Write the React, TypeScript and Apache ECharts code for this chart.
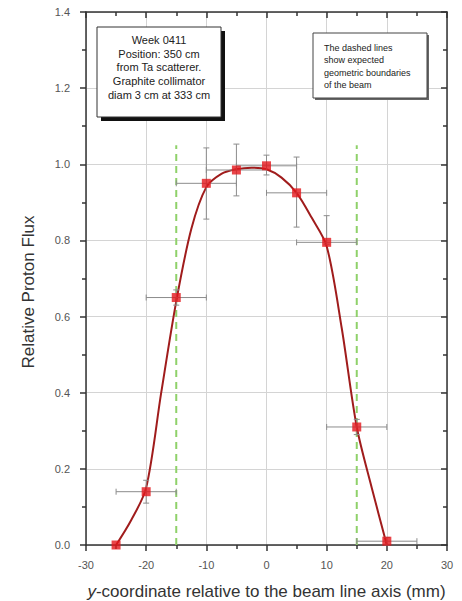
import React, { useEffect, useRef } from 'react';
import * as echarts from 'echarts';

// measured points
const positions = [-25, -20, -15, -10, -5, 0, 5, 10, 15, 20];
const flux = [0.0, 0.14, 0.65, 0.95, 0.985, 0.996, 0.925, 0.795, 0.31, 0.01];
// error bar extents
const xLow = [-25, -25, -20, -15, -10, -5, 0, 5, 10, 15];
const xHigh = [-25, -15, -10, -5, 0, 5, 10, 15, 20, 25];
const yLow = [0, 0.11, 0.63, 0.856, 0.917, 0.972, 0.835, 0.79, 0.29, 0];
const yHigh = [0, 0.17, 0.67, 1.043, 1.053, 1.024, 1.019, 0.865, 0.33, 0.02];
// fitted curve
const fitX = [-25, -22.5, -20, -17.5, -15, -12.5, -10, -7.5, -5, -2.5, 0, 2.5, 5, 7.5, 10, 12.5, 15, 17.5, 20];
const fitY = [0, 0.065, 0.15, 0.4, 0.64, 0.83, 0.94, 0.975, 0.987, 0.991, 0.987, 0.965, 0.925, 0.86, 0.785, 0.57, 0.31, 0.15, 0];
// expected geometric beam boundaries
const boundaryX = [-15, 15];
const boundaryTop = 1.05;

const infoLines = ['Week 0411', 'Position: 350 cm', 'from Ta scatterer.', 'Graphite collimator', 'diam 3 cm at 333 cm'];
const noteLines = ['The dashed lines', 'show expected', 'geometric boundaries', 'of the beam'];

const FONT = '"Liberation Sans", Arial, Helvetica, sans-serif';
const AXIS = '#333';

export default function App() {
  const ref = useRef<HTMLDivElement>(null);
  useEffect(() => {
    if (!ref.current) return;
    const chart = echarts.init(ref.current, undefined, { renderer: 'svg' });

    const tickCommon = (inside: boolean) => ({
      axisLine: { show: true, onZero: false, lineStyle: { color: AXIS, width: 1.5 } },
      axisTick: { show: true, inside, length: 6, lineStyle: { color: AXIS, width: 1.5 } },
      minorTick: { show: true, splitNumber: 2, length: 4, lineStyle: { color: AXIS, width: 1.5 } },
    });

    const option: any = {
      animation: false,
      backgroundColor: '#fff',
      grid: { left: 86, right: 15, top: 12, bottom: 56, containLabel: false, outerBoundsMode: 'none' },
      xAxis: [
        {
          type: 'value', min: -30, max: 30, interval: 10, position: 'bottom',
          ...tickCommon(false),
          axisLabel: { fontSize: 11, color: '#555', margin: 14, fontFamily: FONT },
          splitLine: { show: true, lineStyle: { color: '#d4d4d4', width: 1 } },
          name: '{i|y}-coordinate relative to the beam line axis (mm)',
          nameLocation: 'middle', nameGap: 38,
          nameTextStyle: {
            fontSize: 17, color: '#333', fontFamily: FONT,
            rich: { i: { fontStyle: 'italic', fontSize: 17, color: '#333', fontFamily: FONT } },
          },
        },
        {
          type: 'value', min: -30, max: 30, interval: 10, position: 'top',
          ...tickCommon(true),
          axisLabel: { show: false },
          splitLine: { show: false },
        },
      ],
      yAxis: [
        {
          type: 'value', min: 0, max: 1.4, interval: 0.2, position: 'left',
          ...tickCommon(false),
          axisLabel: { fontSize: 11, color: '#555', margin: 16, fontFamily: FONT, formatter: (v: number) => v.toFixed(1) },
          splitLine: { show: true, lineStyle: { color: '#d4d4d4', width: 1 } },
        },
        {
          type: 'value', min: 0, max: 1.4, interval: 0.2, position: 'right',
          ...tickCommon(true),
          axisLabel: { show: false },
          splitLine: { show: false },
        },
      ],
      series: [
        ...boundaryX.map((bx) => ({
          type: 'line',
          name: 'boundary ' + bx,
          data: [[bx, 0], [bx, boundaryTop]],
          showSymbol: false,
          symbol: 'none',
          lineStyle: { color: '#8fd16a', width: 2, type: [7, 5] },
          z: 2,
          silent: true,
        })),
        {
          type: 'line',
          name: 'fit',
          data: fitX.map((x, i) => [x, fitY[i]]),
          smooth: 0.3,
          showSymbol: false,
          symbol: 'none',
          lineStyle: { color: '#a01c1c', width: 2 },
          z: 3,
        },
        {
          type: 'custom',
          name: 'errors',
          data: positions.map((x, i) => [x, flux[i], xLow[i], xHigh[i], yLow[i], yHigh[i]]),
          encode: { x: 0, y: 1 },
          z: 4,
          renderItem: (params: any, api: any) => {
            const x = api.value(0);
            const y = api.value(1);
            const xl = api.coord([api.value(2), y]);
            const xh = api.coord([api.value(3), y]);
            const yl = api.coord([x, api.value(4)]);
            const yh = api.coord([x, api.value(5)]);
            const style = { stroke: '#8c8c8c', lineWidth: 1 };
            const cap = 3;
            const children: any[] = [];
            if (xh[0] - xl[0] > 1) {
              children.push({ type: 'line', shape: { x1: xl[0], y1: xl[1], x2: xh[0], y2: xh[1] }, style });
              children.push({ type: 'line', shape: { x1: xl[0], y1: xl[1] - cap, x2: xl[0], y2: xl[1] + cap }, style });
              children.push({ type: 'line', shape: { x1: xh[0], y1: xh[1] - cap, x2: xh[0], y2: xh[1] + cap }, style });
            }
            if (yl[1] - yh[1] > 1) {
              children.push({ type: 'line', shape: { x1: yl[0], y1: yl[1], x2: yh[0], y2: yh[1] }, style });
              children.push({ type: 'line', shape: { x1: yl[0] - cap, y1: yl[1], x2: yl[0] + cap, y2: yl[1] }, style });
              children.push({ type: 'line', shape: { x1: yh[0] - cap, y1: yh[1], x2: yh[0] + cap, y2: yh[1] }, style });
            }
            return { type: 'group', children };
          },
        },
        {
          type: 'scatter',
          name: 'flux',
          data: positions.map((x, i) => [x, flux[i]]),
          symbol: 'rect',
          symbolSize: 9,
          itemStyle: { color: '#e3161b' },
          z: 5,
        },
      ],
      graphic: [
        {
          type: 'text', x: 28, y: 292, rotation: Math.PI / 2, z: 100,
          style: { text: 'Relative Proton Flux', fontSize: 17, fill: '#333', align: 'center', verticalAlign: 'middle', fontFamily: FONT },
        },
        { type: 'rect', z: 100, shape: { x: 101, y: 31, width: 124, height: 90 }, style: { fill: '#111' } },
        { type: 'rect', z: 101, shape: { x: 97, y: 27, width: 124, height: 90 }, style: { fill: '#fff', stroke: '#333', lineWidth: 1 } },
        ...infoLines.map((t, i) => ({
          type: 'text', z: 102, x: 159, y: 40 + i * 13.7,
          style: { text: t, fontSize: 11, fill: '#222', align: 'center', verticalAlign: 'middle', fontFamily: FONT },
        })),
        { type: 'rect', z: 100, shape: { x: 315, y: 35, width: 114, height: 65 }, style: { fill: '#666' } },
        { type: 'rect', z: 101, shape: { x: 313, y: 33, width: 114, height: 65 }, style: { fill: '#fff', stroke: '#444', lineWidth: 1 } },
        ...noteLines.map((t, i) => ({
          type: 'text', z: 102, x: 324, y: 48 + i * 12.3,
          style: { text: t, fontSize: 9, fill: '#222', align: 'left', verticalAlign: 'middle', fontFamily: FONT },
        })),
      ],
    };
    chart.setOption(option);
    return () => chart.dispose();
  }, []);
  return <div ref={ref} style={{ position: 'fixed', left: 0, top: 0, width: 462, height: 601, background: '#fff' }} />;
}
